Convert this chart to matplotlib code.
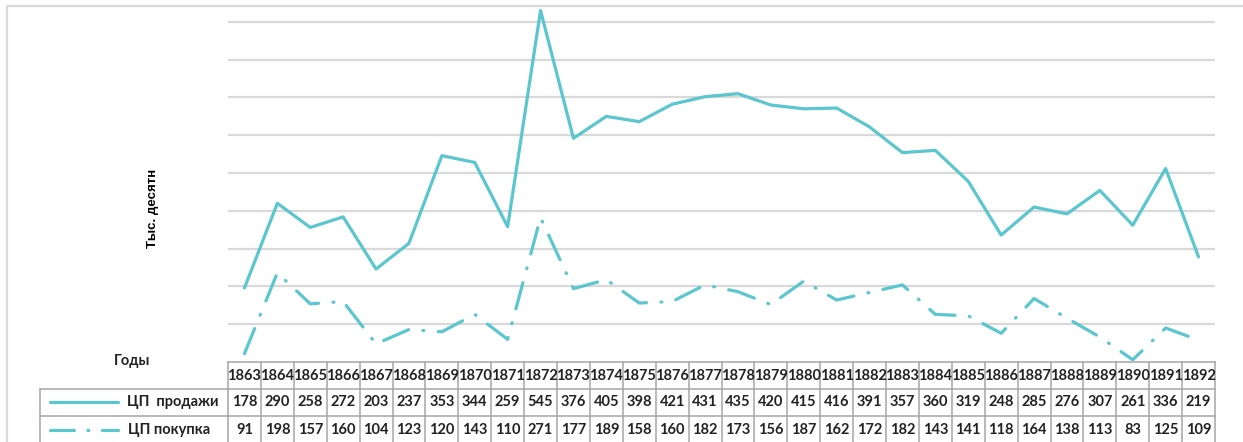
import matplotlib.pyplot as plt
import matplotlib.transforms as mtransforms
from matplotlib.patches import Rectangle

years = list(range(1863, 1893))
sales = [178, 290, 258, 272, 203, 237, 353, 344, 259, 545, 376, 405, 398, 421, 431,
         435, 420, 415, 416, 391, 357, 360, 319, 248, 285, 276, 307, 261, 336, 219]
purchase = [91, 198, 157, 160, 104, 123, 120, 143, 110, 271, 177, 189, 158, 160, 182,
            173, 156, 187, 162, 172, 182, 143, 141, 118, 164, 138, 113, 83, 125, 109]
series_names = ['ЦП  продажи', 'ЦП покупка']

W, H = 1243, 442
color = '#5BC6CE'
grid_c = '#D9D9D9'
tab_c = '#A6A6A6'
fnt = 'Lato'

fig = plt.figure(figsize=(W / 100, H / 100), dpi=100)
# plot area in pixels: x 228..1215, y 6..362
L, R, T, B = 228, 1215, 6, 362
ax = fig.add_axes([L / W, 1 - B / H, (R - L) / W, (B - T) / H])

x = list(range(len(years)))
ls_dash = (0, (8.5, 4.5, 0.3, 4.5))
ax.plot(x, sales, color=color, lw=2.3, solid_capstyle='round', zorder=3, clip_on=False)
ax.plot(x, purchase, color=color, lw=2.3, ls=ls_dash, dash_capstyle='round', zorder=3, clip_on=False)

ax.set_xlim(-0.5, len(years) - 0.5)
ax.set_ylim(80, 551)
ax.set_yticks(range(130, 551, 50))
ax.yaxis.grid(True, color=grid_c, lw=1.6)
ax.set_axisbelow(True)
ax.tick_params(left=False, bottom=False, labelleft=False, labelbottom=False)
for s in ax.spines.values():
    s.set_visible(False)

# chart border
fig.patches.append(Rectangle((7 / W, -0.1), 1.2, 1 - 6 / H + 0.1, transform=fig.transFigure,
                             fill=False, ec=grid_c, lw=1.6))

# data table under the axis
def ay(p):
    return (B - p) / (B - T)

def axx(p):
    return (p - L) / (R - L)

tr = ax.get_xaxis_transform()
rows = [362, 388.5, 415.5, 443]
kw = dict(color=tab_c, lw=1.1, clip_on=False, transform=tr)
ax.plot([-0.5, len(years) - 0.5], [ay(rows[0])] * 2, **kw)
for r in rows[1:3]:
    ax.plot([-0.5, len(years) - 0.5], [ay(r)] * 2, **kw)
    ax.plot([axx(40), axx(L)], [ay(r)] * 2, color=tab_c, lw=1.1, clip_on=False, transform=ax.transAxes)
for i in range(len(years) + 1):
    ax.plot([i - 0.5] * 2, [ay(rows[0]), ay(rows[3])], **kw)
ax.plot([axx(40)] * 2, [ay(rows[1]), ay(rows[3])], color=tab_c, lw=1.1, clip_on=False, transform=ax.transAxes)

tk = dict(transform=tr, ha='center', va='center', fontsize=10.5, family=fnt, fontweight='bold', color='#222222')
for i, yr in enumerate(years):
    ax.text(i, ay(376), str(yr), **tk)
    ax.text(i, ay(402), str(sales[i]), **tk)
    ax.text(i, ay(429.5), str(purchase[i]), **tk)

# legend keys inside the table
ax.plot([axx(50), axx(118)], [ay(402)] * 2, color=color, lw=2.3, solid_capstyle='round',
        clip_on=False, transform=ax.transAxes)
ax.plot([axx(50), axx(118)], [ay(430)] * 2, color=color, lw=2.3, ls=(0, (7.5, 4.2, 0.3, 4.2)),
        dash_capstyle='round', clip_on=False, transform=ax.transAxes)
ax.text(axx(127), ay(402), series_names[0], transform=ax.transAxes, ha='left', va='center',
        fontsize=10.5, family=fnt, fontweight='bold', color='#222222')
ax.text(axx(128), ay(430), series_names[1], transform=ax.transAxes, ha='left', va='center',
        fontsize=10.5, family=fnt, fontweight='bold', color='#222222')

fig.text(132 / W, 1 - 361 / H, 'Годы', ha='center', va='center', fontsize=10.5,
         family=fnt, fontweight='bold', color='#222222')
fig.text(153 / W, 1 - 208 / H, 'Тыс. десятн', ha='center', va='center', rotation=90,
         fontsize=9.5, family='Liberation Sans', fontweight='bold', color='black')

fig.savefig('out.png', dpi=100)
